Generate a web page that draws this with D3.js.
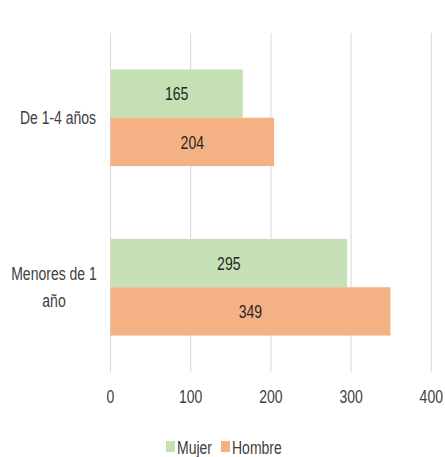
<!DOCTYPE html>
<html>
<head>
<meta charset="utf-8">
<script src="https://cdn.jsdelivr.net/npm/d3@7"></script>
<style>
  html, body { margin: 0; padding: 0; background: #fff; }
  svg { display: block; font-family: "Liberation Sans", Arial, sans-serif; }
</style>
</head>
<body>
<svg id="chart" width="445" height="457"></svg>
<script>
// Age groups (top to bottom) and counts per sex
const categories = ["De 1-4 años", "Menores de 1 año"];
const categoryLines = [["De 1-4 años"], ["Menores de 1", "año"]];
const seriesNames = ["Mujer", "Hombre"];
const mujer = [165, 295];
const hombre = [204, 349];
const xTicks = [0, 100, 200, 300, 400];

const colors = { Mujer: "#c5e0b4", Hombre: "#f4b183" };
const TEXT_STRETCH = 1.35; // glyphs are drawn taller than wide

const svg = d3.select("#chart");
const plotLeft = 110.5, plotTop = 33, plotBottom = 372;

const x = d3.scaleLinear().domain([0, 400]).range([plotLeft, 431.3]);
const y = d3.scaleBand().domain(categories).range([plotTop, plotBottom]).paddingInner(0.43).paddingOuter(0.215);
const ySub = d3.scaleBand().domain(seriesNames).range([0, y.bandwidth()]);

// places a vertically stretched text label centred on cy
function label(parent, tx, cy, str, anchor, color) {
  return parent.append("text")
    .attr("transform", `translate(${tx},${cy}) scale(1,${TEXT_STRETCH})`)
    .attr("x", 0).attr("y", 0).attr("dy", "0.35em")
    .attr("text-anchor", anchor)
    .attr("font-size", 14)
    .attr("fill", color)
    .text(str);
}

const rows = categories.map((c, i) => ({ cat: c, values: [
  { name: "Mujer", value: mujer[i] },
  { name: "Hombre", value: hombre[i] }
]}));

// vertical gridlines
svg.append("g").selectAll("line").data(xTicks).join("line")
  .attr("x1", d => x(d)).attr("x2", d => x(d))
  .attr("y1", plotTop).attr("y2", plotBottom)
  .attr("stroke", "#d9d9d9").attr("stroke-width", 1);

// bars
const barLayer = svg.append("g");
rows.forEach(r => {
  const g = barLayer.append("g").attr("transform", `translate(0,${y(r.cat)})`);
  g.selectAll("rect").data(r.values).join("rect")
    .attr("x", x(0))
    .attr("y", d => ySub(d.name))
    .attr("width", d => x(d.value) - x(0))
    .attr("height", ySub.bandwidth())
    .attr("fill", d => colors[d.name]);
  r.values.forEach(d => {
    label(g, (x(0) + x(d.value)) / 2, ySub(d.name) + ySub.bandwidth() / 2, d.value, "middle", "#262626");
  });
});

// x axis labels
const axisLayer = svg.append("g");
xTicks.forEach(t => label(axisLayer, x(t), 396, x.tickFormat()(t), "middle", "#404040"));

// category labels
categories.forEach((c, i) => {
  const lines = categoryLines[i];
  const cy = y(c) + y.bandwidth() / 2;
  const lh = 27;
  lines.forEach((ln, j) => {
    label(svg, lines.length === 1 ? 58 : 54, cy + (j - (lines.length - 1) / 2) * lh, ln, "middle", "#404040");
  });
});

// legend
const legend = svg.append("g").attr("transform", "translate(166,447)");
const items = [
  { name: "Mujer", x: 0 },
  { name: "Hombre", x: 55 }
];
items.forEach(it => {
  legend.append("rect").attr("x", it.x).attr("y", -6).attr("width", 9).attr("height", 11)
    .attr("fill", colors[it.name]);
  label(legend, it.x + 11, 0, it.name, "start", "#404040");
});
</script>
</body>
</html>
